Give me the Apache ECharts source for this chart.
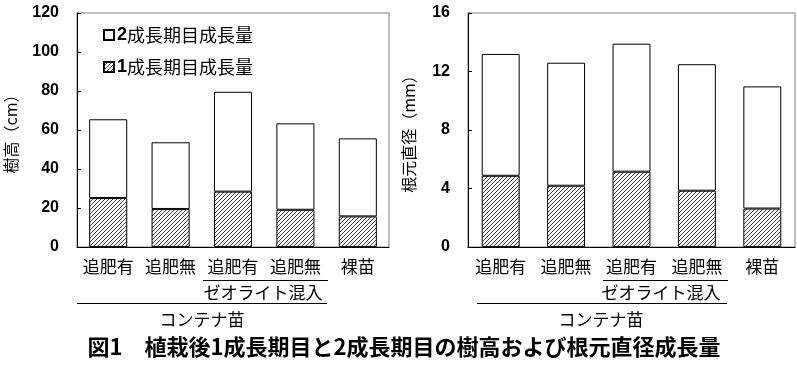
<!DOCTYPE html>
<html><head><meta charset="utf-8">
<script src="https://cdn.jsdelivr.net/npm/echarts@6/dist/echarts.min.js"></script>
<style>html,body{margin:0;padding:0;background:#fff}#c{width:797px;height:368px}</style>
</head><body><div id="c"></div>
<script>
const categories = ['追肥有','追肥無','追肥有','追肥無','裸苗'];
const seriesNames = ['1成長期目成長量','2成長期目成長量'];
// 樹高 (cm)
const heightFirst = [25.1, 19.5, 28.4, 19.1, 15.7];
const heightSecond = [40.4, 34.2, 51.2, 44.3, 40.0];
// 根元直径 (mm)
const diamFirst = [4.87, 4.19, 5.15, 3.85, 2.63];
const diamSecond = [8.33, 8.41, 8.75, 8.65, 8.35];
const heightAxis = {min:0, max:120, interval:20, name:'樹高（cm）'};
const diamAxis = {min:0, max:16, interval:4, name:'根元直径（mm）'};
const title = '図1　植栽後1成長期目と2成長期目の樹高および根元直径成長量';

const JP = '"Noto Sans CJK JP", sans-serif';

function hatch(){
  const s = 4, c = document.createElement('canvas');
  c.width = s; c.height = s;
  const g = c.getContext('2d');
  g.fillStyle = '#fff'; g.fillRect(0,0,s,s);
  g.strokeStyle = '#000'; g.lineWidth = 0.75;
  g.beginPath();
  g.moveTo(0,s); g.lineTo(s,0);
  g.moveTo(-1,1); g.lineTo(1,-1);
  g.moveTo(s-1,s+1); g.lineTo(s+1,s-1);
  g.stroke();
  return c;
}
const hatchFill = {image: hatch(), repeat: 'repeat'};

const chart = echarts.init(document.getElementById('c'), null, {renderer:'canvas'});

function xAxis(gi){
  return {type:'category', gridIndex:gi, data:categories,
    axisLine:{lineStyle:{color:'#000', width:1}}, axisTick:{show:false},
    axisLabel:{color:'#000', fontSize:17, fontFamily:JP, margin:11, interval:0}};
}
function yAxis(gi, a, gap){
  return {type:'value', gridIndex:gi, min:a.min, max:a.max, interval:a.interval,
    name:a.name, nameLocation:'middle', nameGap:gap, nameRotate:90,
    nameTextStyle:{color:'#000', fontSize:16, fontFamily:JP},
    axisLine:{show:true, lineStyle:{color:'#000', width:1}},
    axisTick:{show:true, inside:true, length:4, lineStyle:{color:'#000'}},
    splitLine:{show:false},
    axisLabel:{color:'#000', fontSize:16, fontWeight:'bold', fontFamily:'"Liberation Sans", Arial, sans-serif', margin:18}};
}
function bar(name, data, gi, stack, fill, w){
  return {type:'bar', name:name, data:data, xAxisIndex:gi, yAxisIndex:gi, stack:stack,
    barWidth:w, itemStyle:{color:fill, borderColor:'#000', borderWidth:1}, silent:true, animation:false};
}

const lineStyle = {stroke:'#000', lineWidth:1};
const txt = (x,y,t,size,bold)=>({type:'text', x:x, y:y, style:{text:t, fill:'#000', font:(bold?'bold ':'')+size+'px '+JP, textAlign:'center', textVerticalAlign:'middle'}});

chart.setOption({
  animation:false,
  grid:[
    {left:77, right:408, top:13, bottom:121, show:true, borderColor:'#7f7f7f', borderWidth:1},
    {left:468, right:2, top:13, bottom:121, show:true, borderColor:'#7f7f7f', borderWidth:1}
  ],
  legend:{
    data:[seriesNames[1], seriesNames[0]], orient:'vertical', left:98, top:21,
    itemWidth:10, itemHeight:10, itemGap:14, icon:'rect',
    formatter: n => '{b|'+n[0]+'}'+n.slice(1),
    textStyle:{color:'#000', fontSize:18, fontFamily:JP, padding:[0,0,0,-2],
      rich:{b:{fontWeight:'bold', fontSize:18, fontFamily:'"Liberation Sans", Arial, sans-serif'}}}
  },
  xAxis:[xAxis(0), xAxis(1)],
  yAxis:[yAxis(0, heightAxis, 58), yAxis(1, diamAxis, 51)],
  series:[
    bar(seriesNames[0], heightFirst, 0, 'h', hatchFill, '61%'),
    bar(seriesNames[1], heightSecond, 0, 'h', '#fff', '61%'),
    bar(seriesNames[0], diamFirst, 1, 'd', hatchFill, '58%'),
    bar(seriesNames[1], diamSecond, 1, 'd', '#fff', '58%')
  ],
  graphic:[
    {type:'line', shape:{x1:203, y1:280.5, x2:328, y2:280.5}, style:lineStyle},
    {type:'line', shape:{x1:77, y1:303.5, x2:327, y2:303.5}, style:lineStyle},
    {type:'line', shape:{x1:603, y1:280.5, x2:728, y2:280.5}, style:lineStyle},
    {type:'line', shape:{x1:477, y1:303.5, x2:727, y2:303.5}, style:lineStyle},
    txt(263, 293, 'ゼオライト混入', 17),
    txt(202, 320, 'コンテナ苗', 17),
    txt(661, 293, 'ゼオライト混入', 17),
    txt(601, 320, 'コンテナ苗', 17),
    txt(404, 347, title, 22, true)
  ]
});
</script></body></html>
